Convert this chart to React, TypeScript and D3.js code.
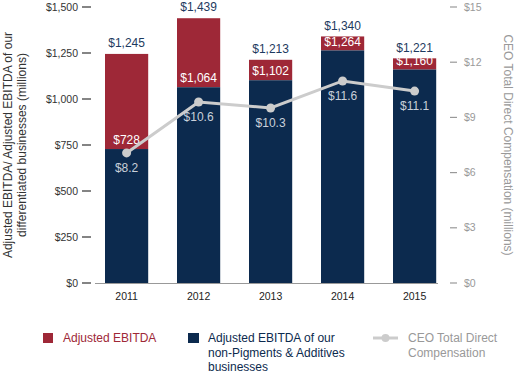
import React from "react";
import * as d3 from "d3";

const years = ["2011", "2012", "2013", "2014", "2015"];
const totalEbitda = [1245, 1439, 1213, 1340, 1221];
const nonPigments = [728, 1064, 1102, 1264, 1160];
const ceoPlotted = [7.07, 9.84, 9.51, 10.98, 10.43];
const ceoLabels = ["$8.2", "$10.6", "$10.3", "$11.6", "$11.1"];
const leftTicks = [0, 250, 500, 750, 1000, 1250, 1500];
const rightTicks = [0, 3, 6, 9, 12, 15];

const RED = "#9E2837";
const NAVY = "#0C2A4E";
const GRAY = "#CCCCCC";
const FONT = "'Liberation Sans', Arial, Helvetica, sans-serif";

export default function App() {
  const W = 517, H = 373;
  const top = 7, bottom = 283;
  const x = d3.scaleBand().domain(years).range([94.2, 447]).paddingInner(0.4).paddingOuter(0.15);
  const yL = d3.scaleLinear().domain([0, 1500]).range([bottom, top]);
  const yR = d3.scaleLinear().domain([0, 15]).range([bottom, top]);
  const fmt = d3.format(",");
  const line = d3.line<number>()
    .x((_, i) => (x(years[i]) as number) + x.bandwidth() / 2)
    .y((d) => yR(d));

  return (
    <svg width={W} height={H} style={{ position: "absolute", left: 0, top: 0 }} fontFamily={FONT}>
      {/* left axis */}
      {leftTicks.map((t) => (
        <g key={t}>
          <text x={78} y={yL(t)} dy="0.35em" textAnchor="end" fontSize={10.5} fill="#333">${fmt(t)}</text>
          <line x1={82} x2={91} y1={yL(t)} y2={yL(t)} stroke="#333" strokeWidth={1.2} />
        </g>
      ))}
      {/* right axis */}
      {rightTicks.map((t) => (
        <g key={t}>
          <line x1={450} x2={457} y1={yR(t)} y2={yR(t)} stroke="#999" strokeWidth={1.2} />
          <text x={464} y={yR(t)} dy="0.35em" fontSize={10.5} fill="#999">${t}</text>
        </g>
      ))}
      {/* bars */}
      {years.map((yr, i) => {
        const bx = x(yr) as number;
        const bw = x.bandwidth();
        return (
          <g key={yr}>
            <rect x={bx} y={yL(totalEbitda[i])} width={bw} height={yL(nonPigments[i]) - yL(totalEbitda[i])} fill={RED} />
            <rect x={bx} y={yL(nonPigments[i])} width={bw} height={bottom - yL(nonPigments[i])} fill={NAVY} />
            <text x={bx + bw / 2} y={yL(totalEbitda[i]) - 11} dy="0.35em" textAnchor="middle" fontSize={12} fill="#1D3A60">${fmt(totalEbitda[i])}</text>
            <text x={bx + bw / 2} y={yL(nonPigments[i]) - 9} dy="0.35em" textAnchor="middle" fontSize={12} fill="#fff">${fmt(nonPigments[i])}</text>
            <text x={bx + bw / 2} y={296} dy="0.35em" textAnchor="middle" fontSize={10.5} fill="#222">{yr}</text>
          </g>
        );
      })}
      {/* baseline */}
      <line x1={95} x2={438} y1={bottom + 0.5} y2={bottom + 0.5} stroke="#999" strokeWidth={1} />
      {/* CEO line */}
      <path d={line(ceoPlotted) || ""} fill="none" stroke={GRAY} strokeWidth={3} />
      {ceoPlotted.map((v, i) => (
        <g key={i}>
          <circle cx={(x(years[i]) as number) + x.bandwidth() / 2} cy={yR(v)} r={4.5} fill={GRAY} />
          <text x={(x(years[i]) as number) + x.bandwidth() / 2} y={yR(v) + 15} dy="0.35em" textAnchor="middle" fontSize={12} fill="#C9D0DA">{ceoLabels[i]}</text>
        </g>
      ))}
      {/* axis titles */}
      <text transform={`translate(12,${(top + bottom) / 2}) rotate(-90)`} textAnchor="middle" fontSize={12} fill="#333">
        <tspan x={0} dy="0">Adjusted EBITDA/ Adjusted EBITDA of our</tspan>
        <tspan x={0} dy="14">differentiated businesses (millions)</tspan>
      </text>
      <text transform={`translate(504,${(top + bottom) / 2}) rotate(90)`} textAnchor="middle" fontSize={12} fill="#999">
        CEO Total Direct Compensation (millions)
      </text>
      {/* legend */}
      <rect x={43} y={333} width={10} height={10} fill={RED} />
      <text x={63} y={338} dy="0.35em" fontSize={12} fill={RED}>Adjusted EBITDA</text>
      <rect x={188} y={333} width={11} height={10} fill={NAVY} />
      <text x={208} y={338} fontSize={12} fill={NAVY}>
        <tspan x={208} dy="0.35em">Adjusted EBITDA of our</tspan>
        <tspan x={208} dy="14.5">non-Pigments &amp; Additives</tspan>
        <tspan x={208} dy="14.5">businesses</tspan>
      </text>
      <line x1={373} x2={398} y1={338} y2={338} stroke={GRAY} strokeWidth={3} />
      <circle cx={385.5} cy={338} r={4} fill={GRAY} />
      <text x={408} y={338} fontSize={12} fill="#999">
        <tspan x={408} dy="0.35em">CEO Total Direct</tspan>
        <tspan x={408} dy="14.5">Compensation</tspan>
      </text>
    </svg>
  );
}
